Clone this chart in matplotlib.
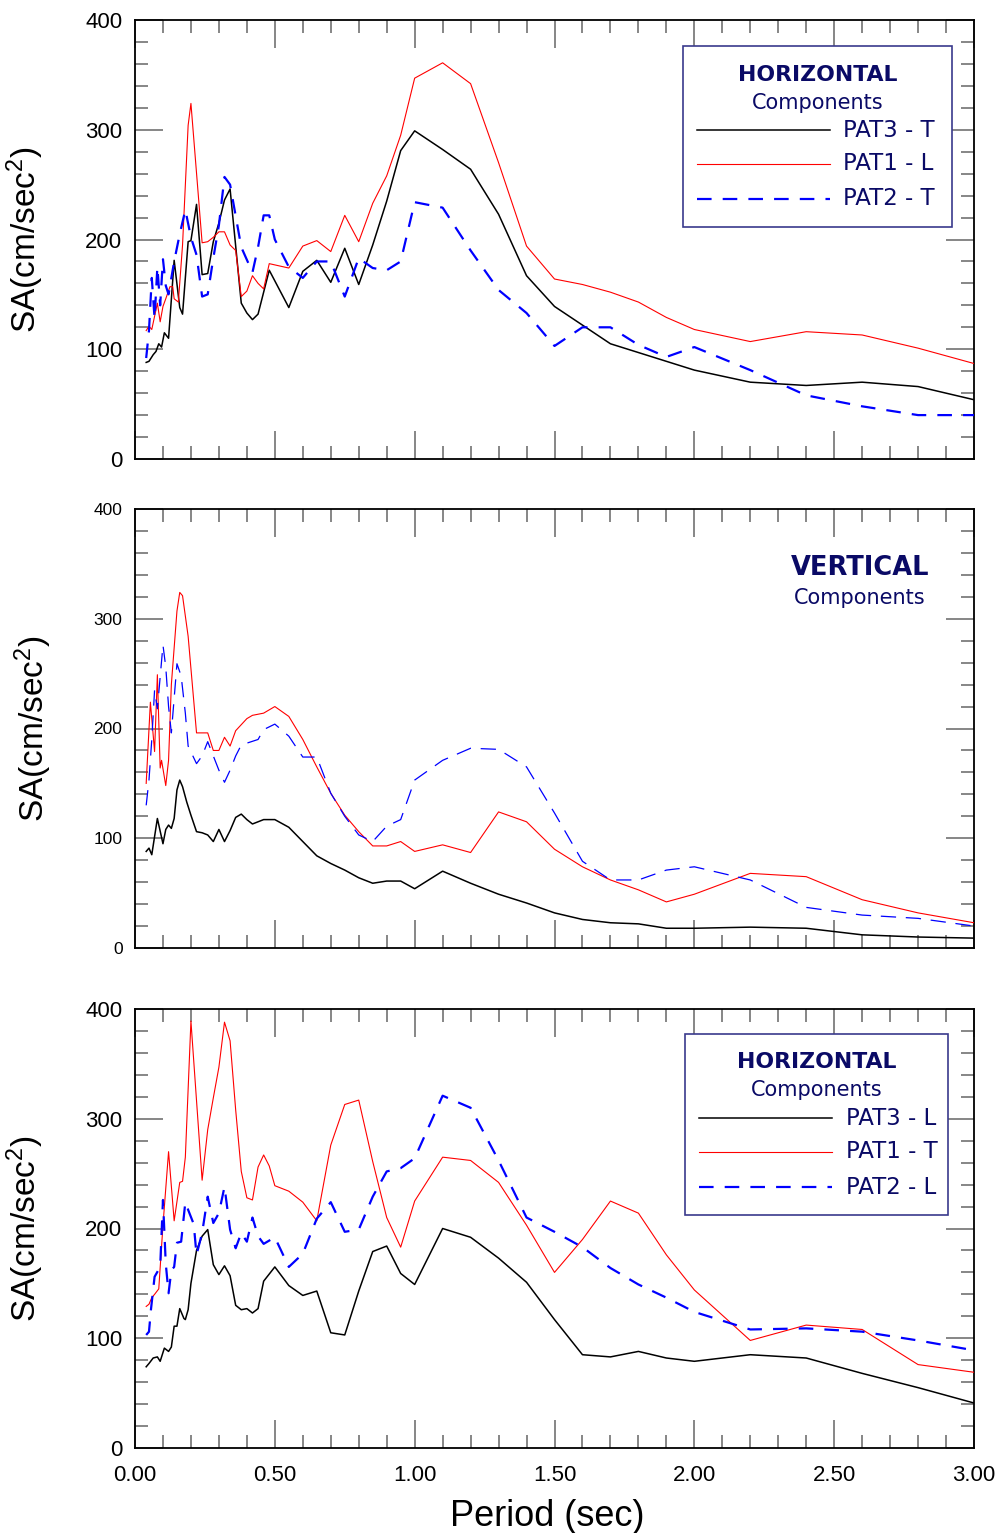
import matplotlib
matplotlib.use("Agg")
import matplotlib.pyplot as plt
from matplotlib.patches import Rectangle
from matplotlib.ticker import MultipleLocator, FormatStrFormatter

plt.rcParams['font.family'] = ['Liberation Sans', 'DejaVu Sans']
plt.rcParams['mathtext.fontset'] = 'custom'
plt.rcParams['mathtext.rm'] = 'Liberation Sans'
plt.rcParams['mathtext.it'] = 'Liberation Sans:italic'
plt.rcParams['mathtext.bf'] = 'Liberation Sans:bold'
plt.rcParams['mathtext.default'] = 'regular'
plt.rcParams['lines.scale_dashes'] = False

# ---------------- data ----------------
# Top panel: HORIZONTAL (PAT3-T, PAT1-L, PAT2-T)
top_black_T = [0.04,0.05,0.065,0.075,0.085,0.095,0.105,0.12,0.14,0.16,0.17,0.19,0.20,0.22,0.24,0.26,0.28,0.30,0.32,0.34,
               0.38,0.40,0.42,0.44,0.48,0.55,0.60,0.65,0.70,0.75,0.80,0.85,0.90,0.95,1.00,
               1.10,1.20,1.30,1.40,1.50,1.60,1.70,1.80,1.90,2.00,2.20,2.40,2.60,2.80,3.00]
top_black_SA = [88,89,95,98,105,102,115,110,181,138,132,198,199,232,168,169,198,215,236,246,
                142,133,127,132,172,138,171,181,161,192,159,195,235,281,299,
                282,264,223,167,139,122,105,97,89,81,70,67,70,66,54]

top_red_T = [0.04,0.05,0.06,0.07,0.08,0.09,0.10,0.11,0.125,0.135,0.14,0.155,0.17,0.19,0.20,
             0.24,0.26,0.28,0.30,0.32,0.34,0.36,0.38,0.40,0.42,0.44,0.46,0.48,
             0.55,0.60,0.65,0.70,0.75,0.80,0.85,0.90,0.95,1.00,
             1.10,1.20,1.30,1.40,1.50,1.60,1.70,1.80,1.90,2.00,2.20,2.40,2.60,2.80,3.00]
top_red_SA = [117,121,118,130,142,125,139,146,157,157,146,143,195,304,324,
              197,198,202,207,207,195,190,148,153,167,160,155,178,
              174,194,199,189,222,198,233,258,295,347,
              361,342,270,194,164,159,152,143,129,118,107,116,113,101,87]

top_blue_T = [0.04,0.05,0.06,0.07,0.08,0.09,0.10,0.11,0.12,0.14,0.16,0.18,0.20,0.22,0.24,0.26,0.28,0.30,0.32,0.34,
              0.38,0.42,0.44,0.46,0.48,0.50,0.55,0.60,0.65,0.70,0.75,0.80,0.85,0.90,0.95,1.00,
              1.10,1.20,1.30,1.40,1.50,1.60,1.70,1.80,1.90,2.00,2.20,2.40,2.60,2.80,3.00]
top_blue_SA = [92,117,165,128,175,140,182,158,150,180,205,227,202,186,148,150,183,213,257,250,
               193,170,193,222,222,200,175,165,180,180,148,183,174,172,180,234,
               229,190,154,133,103,120,120,104,93,102,81,58,48,40,40]

# Middle panel: VERTICAL
mid_black_T = [0.04,0.05,0.06,0.08,0.10,0.11,0.12,0.13,0.14,0.15,0.16,0.17,0.185,0.20,0.22,0.24,0.26,0.28,0.30,0.32,
               0.34,0.36,0.38,0.40,0.42,0.46,0.50,0.55,0.60,0.65,0.70,0.75,0.80,0.85,0.90,0.95,1.00,
               1.10,1.20,1.30,1.40,1.50,1.60,1.70,1.80,1.90,2.00,2.20,2.40,2.60,2.80,3.00]
mid_black_SA = [88,91,85,118,95,108,112,109,118,144,153,147,133,121,106,105,103,97,108,97,
                107,119,122,117,113,117,117,110,97,84,77,71,64,59,61,61,54,
                70,59,49,41,32,26,23,22,18,18,19,18,12,10,9]

mid_red_T = [0.04,0.055,0.07,0.08,0.09,0.095,0.11,0.12,0.13,0.15,0.16,0.17,0.19,0.22,0.26,0.28,0.30,0.32,0.34,0.36,
             0.40,0.42,0.46,0.50,0.55,0.60,0.65,0.70,0.75,0.80,0.85,0.90,0.95,1.00,
             1.10,1.20,1.30,1.40,1.50,1.60,1.70,1.80,1.90,2.00,2.20,2.40,2.60,2.80,3.00]
mid_red_SA = [150,224,179,249,164,171,148,171,240,307,324,321,284,196,196,180,180,192,184,198,
              209,212,214,220,211,190,165,141,121,106,93,93,97,88,
              94,87,124,115,90,74,62,53,42,49,68,65,44,32,23]

mid_blue_T = [0.04,0.05,0.06,0.07,0.08,0.10,0.11,0.12,0.13,0.15,0.165,0.18,0.19,0.22,0.24,0.26,0.30,0.32,0.34,0.36,
              0.38,0.44,0.46,0.50,0.55,0.60,0.65,0.70,0.75,0.80,0.85,0.90,0.95,1.00,
              1.10,1.20,1.30,1.40,1.50,1.60,1.70,1.80,1.90,2.00,2.20,2.40,2.60,2.80,3.00]
mid_blue_SA = [130,153,190,235,218,276,256,220,196,259,248,214,184,168,175,188,162,151,162,175,
               185,190,199,204,193,174,174,141,120,103,97,111,117,153,
               171,182,181,165,123,79,62,62,71,74,62,37,30,27,20]

# Bottom panel: HORIZONTAL (PAT3-L, PAT1-T, PAT2-L)
bot_black_T = [0.04,0.05,0.065,0.08,0.09,0.105,0.12,0.13,0.14,0.15,0.16,0.175,0.18,0.19,0.20,0.22,0.24,0.26,0.28,0.30,
               0.32,0.34,0.36,0.38,0.40,0.42,0.44,0.46,0.50,0.55,0.60,0.65,0.70,0.75,0.80,0.85,0.90,0.95,1.00,
               1.10,1.20,1.30,1.40,1.50,1.60,1.70,1.80,1.90,2.00,2.20,2.40,2.60,2.80,3.00]
bot_black_SA = [74,77,82,83,79,91,88,92,111,111,127,118,117,126,150,180,193,199,167,158,
                166,157,130,126,127,123,127,152,165,148,139,143,105,103,143,179,184,159,149,
                200,192,173,151,117,85,83,88,82,79,85,82,68,55,41]

bot_red_T = [0.04,0.05,0.06,0.07,0.085,0.10,0.12,0.14,0.16,0.17,0.18,0.20,0.24,0.26,0.28,0.30,0.32,0.34,0.36,0.38,
             0.40,0.42,0.44,0.46,0.48,0.50,0.55,0.60,0.65,0.70,0.75,0.80,0.85,0.90,0.95,1.00,
             1.10,1.20,1.30,1.40,1.50,1.60,1.70,1.80,1.90,2.00,2.20,2.40,2.60,2.80,3.00]
bot_red_SA = [129,131,137,140,145,203,270,207,242,243,265,389,244,290,319,347,388,371,308,252,
              228,226,256,267,257,239,234,224,207,276,313,317,261,210,183,225,
              265,262,242,203,160,190,225,214,176,144,98,112,108,76,69]

bot_blue_T = [0.04,0.05,0.057,0.07,0.09,0.10,0.11,0.12,0.13,0.14,0.15,0.165,0.18,0.19,0.21,0.22,0.24,0.26,0.28,0.30,
              0.32,0.34,0.36,0.38,0.40,0.42,0.44,0.46,0.50,0.55,0.60,0.65,0.70,0.75,0.80,0.85,0.90,0.95,1.00,
              1.10,1.20,1.30,1.40,1.50,1.60,1.70,1.80,1.90,2.00,2.20,2.40,2.60,2.80,3.00]
bot_blue_SA = [103,106,126,156,165,226,168,141,162,165,187,188,224,217,204,176,196,229,205,214,
               238,199,182,196,188,210,193,186,192,165,177,209,224,197,199,229,252,255,264,
               321,310,262,210,197,183,164,149,137,124,108,109,106,98,89]

x_ticks = [0.0, 0.5, 1.0, 1.5, 2.0, 2.5, 3.0]
y_ticks = [0, 100, 200, 300, 400]
top_labels = ["PAT3 - T", "PAT1 - L", "PAT2 - T"]
bot_labels = ["PAT3 - L", "PAT1 - T", "PAT2 - L"]

# ---------------- figure ----------------
W, H = 999, 1533
fig = plt.figure(figsize=(W / 100, H / 100), dpi=100)

def ax_rect(top_px, bot_px, left_px=135, right_px=974):
    return [left_px / W, 1 - bot_px / H, (right_px - left_px) / W, (bot_px - top_px) / H]

ax1 = fig.add_axes(ax_rect(20, 459))
ax2 = fig.add_axes(ax_rect(509, 948))
ax3 = fig.add_axes(ax_rect(1009, 1448))

NAVY = '#0a0a66'
BOX = '#3a3a8c'

def style(ax, ylab_size, show_x):
    ax.set_xlim(0, 3.0)
    ax.set_ylim(0, 400)
    ax.set_xticks(x_ticks)
    ax.set_yticks(y_ticks)
    ax.xaxis.set_minor_locator(MultipleLocator(0.1))
    ax.yaxis.set_minor_locator(MultipleLocator(20))
    ax.tick_params(which='both', direction='in', top=True, right=True, color='#666666', width=1.1)
    ax.tick_params(which='major', length=20)
    ax.tick_params(which='minor', length=9.5)
    ax.tick_params(axis='y', labelsize=ylab_size, pad=9)
    ax.tick_params(axis='x', labelsize=16, pad=12)
    ax.xaxis.set_major_formatter(FormatStrFormatter('%.2f'))
    if not show_x:
        ax.tick_params(axis='x', labelbottom=False)
    for s in ax.spines.values():
        s.set_color('black')
        s.set_linewidth(1.3)

def plot_set(ax, bT, bS, rT, rS, uT, uS, blue_lw, blue_dash):
    ax.plot(bT, bS, color='black', lw=1.1, zorder=3)
    ax.plot(rT, rS, color='#ff0000', lw=0.8, zorder=3)
    ax.plot(uT, uS, color='#0000ff', lw=blue_lw, dashes=blue_dash, zorder=3)

plot_set(ax1, top_black_T, top_black_SA, top_red_T, top_red_SA, top_blue_T, top_blue_SA, 1.6, (10.5, 8))
plot_set(ax2, mid_black_T, mid_black_SA, mid_red_T, mid_red_SA, mid_blue_T, mid_blue_SA, 0.9, (11, 7))
plot_set(ax3, bot_black_T, bot_black_SA, bot_red_T, bot_red_SA, bot_blue_T, bot_blue_SA, 1.6, (10.5, 8))

style(ax1, 16, False)
style(ax2, 12.5, False)
style(ax3, 16, True)

ylab = 'SA(cm/sec$^2$)'
for ax, xpos in ((ax1, -0.131), (ax2, -0.121), (ax3, -0.131)):
    ax.text(xpos, 0.5, ylab, transform=ax.transAxes, rotation=90, ha='center', va='center', fontsize=24)

fig.text(547 / W, 1 - 1516 / H, 'Period (sec)', ha='center', va='center', fontsize=26)

def legend_box(ax, x0, x1, y0, y1, tx, ty_h, ty_c, rows_y, lx0, lx1, txl, labels):
    ax.add_patch(Rectangle((x0, y0), x1 - x0, y1 - y0, transform=ax.transAxes, fill=True,
                           facecolor='white', edgecolor=BOX, lw=1.2, zorder=4))
    ax.text(tx, ty_h, 'HORIZONTAL', transform=ax.transAxes, ha='center', va='center',
            fontsize=15.8, fontweight='bold', color=NAVY, family='DejaVu Sans', zorder=5)
    ax.text(tx, ty_c, 'Components', transform=ax.transAxes, ha='center', va='center',
            fontsize=15, color=NAVY, family='DejaVu Sans', zorder=5)
    specs = [dict(color='black', lw=1.1), dict(color='#ff0000', lw=0.8),
             dict(color='#0000ff', lw=1.6, dashes=(10.5, 8))]
    for yy, lab, sp in zip(rows_y, labels, specs):
        ax.plot([lx0, lx1], [yy, yy], transform=ax.transAxes, zorder=5, **sp)
        ax.text(txl, yy, lab, transform=ax.transAxes, ha='left', va='center',
                fontsize=16.5, color=NAVY, family='DejaVu Sans', zorder=5)

legend_box(ax1, 0.653, 0.974, 0.5285, 0.9408, 0.814, 0.8747, 0.811,
           [0.7494, 0.672, 0.5923], 0.670, 0.828, 0.844, top_labels)
legend_box(ax3, 0.6555, 0.969, 0.5308, 0.943, 0.8129, 0.879, 0.815,
           [0.7517, 0.6743, 0.5945], 0.672, 0.831, 0.847, bot_labels)

ax2.text(0.864, 0.8656, 'VERTICAL', transform=ax2.transAxes, ha='center', va='center',
         fontsize=18.5, fontweight='bold', color=NAVY, family='DejaVu Sans')
ax2.text(0.864, 0.797, 'Components', transform=ax2.transAxes, ha='center', va='center',
         fontsize=15, color=NAVY, family='DejaVu Sans')

fig.savefig('out.png', dpi=100)
